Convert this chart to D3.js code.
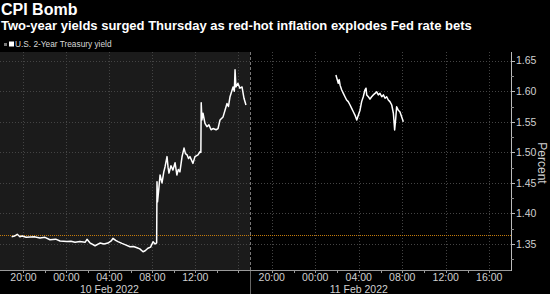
<!DOCTYPE html>
<html><head><meta charset="utf-8">
<script src="https://cdn.jsdelivr.net/npm/d3@7"></script>
<style>html,body{margin:0;padding:0;background:#000;}svg{display:block;}</style>
</head><body>
<svg id="c" width="550" height="294"></svg>
<script>
const titleText = "CPI Bomb";
const subtitleText = "Two-year yields surged Thursday as red-hot inflation explodes Fed rate bets";
const legendLabel = "U.S. 2-Year Treasury yield";
const axisTitle = "Percent";
const prevClose = 1.3645;

const day1Times = ["2022-02-09T18:54","2022-02-09T19:10","2022-02-09T19:25","2022-02-09T19:40","2022-02-09T19:52","2022-02-09T20:15","2022-02-09T20:37","2022-02-09T21:00","2022-02-09T21:32","2022-02-09T22:00","2022-02-09T22:28","2022-02-09T23:00","2022-02-09T23:24","2022-02-10T00:03","2022-02-10T00:25","2022-02-10T00:48","2022-02-10T01:15","2022-02-10T01:44","2022-02-10T01:55","2022-02-10T02:11","2022-02-10T02:40","2022-02-10T03:07","2022-02-10T03:30","2022-02-10T03:52","2022-02-10T04:10","2022-02-10T04:20","2022-02-10T04:35","2022-02-10T04:48","2022-02-10T05:10","2022-02-10T05:27","2022-02-10T05:55","2022-02-10T06:15","2022-02-10T06:34","2022-02-10T06:50","2022-02-10T07:08","2022-02-10T07:20","2022-02-10T07:35","2022-02-10T07:50","2022-02-10T08:04","2022-02-10T08:15","2022-02-10T08:24","2022-02-10T08:26","2022-02-10T08:29","2022-02-10T08:36","2022-02-10T08:43","2022-02-10T08:54","2022-02-10T09:04","2022-02-10T09:11","2022-02-10T09:22","2022-02-10T09:28","2022-02-10T09:33","2022-02-10T09:44","2022-02-10T09:55","2022-02-10T10:07","2022-02-10T10:17","2022-02-10T10:25","2022-02-10T10:34","2022-02-10T10:46","2022-02-10T10:57","2022-02-10T11:05","2022-02-10T11:14","2022-02-10T11:22","2022-02-10T11:30","2022-02-10T11:47","2022-02-10T11:58","2022-02-10T12:15","2022-02-10T12:26","2022-02-10T12:31","2022-02-10T12:33","2022-02-10T12:37","2022-02-10T12:43","2022-02-10T12:54","2022-02-10T13:05","2022-02-10T13:16","2022-02-10T13:28","2022-02-10T13:39","2022-02-10T13:56","2022-02-10T14:07","2022-02-10T14:18","2022-02-10T14:35","2022-02-10T14:46","2022-02-10T14:57","2022-02-10T15:05","2022-02-10T15:14","2022-02-10T15:31","2022-02-10T15:38","2022-02-10T15:42","2022-02-10T15:47","2022-02-10T15:58","2022-02-10T16:09","2022-02-10T16:21","2022-02-10T16:32","2022-02-10T16:43"];
const day1Yields = [1.362,1.363,1.366,1.362,1.363,1.361,1.3615,1.362,1.360,1.361,1.357,1.358,1.355,1.354,1.3545,1.353,1.354,1.3528,1.3577,1.352,1.3472,1.3516,1.350,1.3516,1.355,1.3593,1.356,1.354,1.351,1.349,1.3456,1.346,1.344,1.342,1.3374,1.339,1.343,1.345,1.3538,1.350,1.352,1.452,1.419,1.440,1.463,1.450,1.468,1.4765,1.493,1.475,1.466,1.478,1.471,1.483,1.463,1.472,1.468,1.493,1.507,1.498,1.496,1.490,1.493,1.482,1.493,1.496,1.501,1.500,1.581,1.553,1.564,1.5475,1.542,1.545,1.537,1.539,1.537,1.539,1.553,1.558,1.569,1.580,1.575,1.591,1.607,1.600,1.635,1.607,1.613,1.605,1.607,1.5885,1.5775];

const day2Times = ["2022-02-11T01:54","2022-02-11T02:07","2022-02-11T02:12","2022-02-11T02:17","2022-02-11T02:26","2022-02-11T02:35","2022-02-11T02:44","2022-02-11T02:53","2022-02-11T03:02","2022-02-11T03:12","2022-02-11T03:21","2022-02-11T03:30","2022-02-11T03:39","2022-02-11T03:49","2022-02-11T03:58","2022-02-11T04:07","2022-02-11T04:16","2022-02-11T04:25","2022-02-11T04:34","2022-02-11T04:40","2022-02-11T04:44","2022-02-11T04:53","2022-02-11T05:02","2022-02-11T05:11","2022-02-11T05:20","2022-02-11T05:30","2022-02-11T05:39","2022-02-11T05:48","2022-02-11T05:57","2022-02-11T06:07","2022-02-11T06:16","2022-02-11T06:25","2022-02-11T06:34","2022-02-11T06:43","2022-02-11T06:52","2022-02-11T07:02","2022-02-11T07:11","2022-02-11T07:14","2022-02-11T07:18","2022-02-11T07:24","2022-02-11T07:29","2022-02-11T07:38","2022-02-11T07:47","2022-02-11T07:57","2022-02-11T08:06"];
const day2Yields = [1.6266,1.613,1.619,1.610,1.602,1.5966,1.591,1.5857,1.583,1.5775,1.572,1.5665,1.561,1.553,1.561,1.569,1.583,1.591,1.602,1.605,1.594,1.591,1.587,1.591,1.594,1.5966,1.599,1.594,1.5966,1.591,1.594,1.5885,1.591,1.5857,1.583,1.5775,1.564,1.553,1.5366,1.5557,1.5747,1.569,1.5665,1.558,1.550];

const yTicks = [1.35,1.40,1.45,1.50,1.55,1.60,1.65];
const yMinorTicks = [1.325,1.375,1.425,1.475,1.525,1.575,1.625];
const xLabelTimes = ["2022-02-09T20:00","2022-02-10T00:00","2022-02-10T04:00","2022-02-10T08:00","2022-02-10T12:00","2022-02-10T20:00","2022-02-11T00:00","2022-02-11T04:00","2022-02-11T08:00","2022-02-11T12:00","2022-02-11T16:00"];
const xGridTimes = ["2022-02-09T20:00","2022-02-10T00:00","2022-02-10T04:00","2022-02-10T08:00","2022-02-10T12:00","2022-02-10T16:00","2022-02-10T20:00","2022-02-11T00:00","2022-02-11T04:00","2022-02-11T08:00","2022-02-11T12:00","2022-02-11T16:00"];
const xMinorTimes = ["2022-02-09T22:00","2022-02-10T02:00","2022-02-10T06:00","2022-02-10T10:00","2022-02-10T14:00","2022-02-10T22:00","2022-02-11T02:00","2022-02-11T06:00","2022-02-11T10:00","2022-02-11T14:00"];
const dateLabels = [["2022-02-10T04:00","10 Feb 2022"],["2022-02-11T04:00","11 Feb 2022"]];
const domainBreaks = ["2022-02-09T18:00","2022-02-10T17:00","2022-02-10T18:00","2022-02-11T18:00"];

const parse = d3.timeParse("%Y-%m-%dT%H:%M");
const fmt = d3.timeFormat("%H:%M");
const FONT = "'Liberation Sans', Arial, sans-serif";

const svg = d3.select("#c");
const plotTop = 52, plotBottom = 270, axisX = 511, sepX = 250;

const x = d3.scaleTime().domain(domainBreaks.map(parse)).range([2, 249, 250, 511]);
const y = d3.scaleLinear().domain([1.3075, 1.6642]).range([plotBottom, plotTop]);

svg.append("rect").attr("width",550).attr("height",294).attr("fill","#000");
svg.append("rect").attr("x",0).attr("y",plotTop).attr("width",sepX).attr("height",plotBottom-plotTop).attr("fill","#1b1b1b");

// grid
svg.append("g").selectAll("line").data(yTicks).join("line")
  .attr("x1",0).attr("x2",axisX).attr("y1",d=>Math.round(y(d))+0.5).attr("y2",d=>Math.round(y(d))+0.5)
  .attr("stroke","#444").attr("stroke-dasharray","1,2");
svg.append("g").selectAll("line").data(xGridTimes).join("line")
  .attr("x1",d=>Math.round(x(parse(d)))+0.5).attr("x2",d=>Math.round(x(parse(d)))+0.5)
  .attr("y1",plotTop).attr("y2",plotBottom)
  .attr("stroke","#444").attr("stroke-dasharray","1,2");

// separator
svg.append("line").attr("x1",sepX+0.5).attr("x2",sepX+0.5).attr("y1",plotTop).attr("y2",plotBottom)
  .attr("stroke","#777").attr("stroke-dasharray","3,2");
svg.append("line").attr("x1",sepX+0.5).attr("x2",sepX+0.5).attr("y1",plotBottom).attr("y2",294)
  .attr("stroke","#666");

// previous close
svg.append("line").attr("x1",0).attr("x2",axisX).attr("y1",Math.round(y(prevClose))+0.5).attr("y2",Math.round(y(prevClose))+0.5)
  .attr("stroke","#c27a0e").attr("stroke-dasharray","1,1");

// lines
const line = d3.line().x(d=>x(d[0])).y(d=>y(d[1]));
[[day1Times,day1Yields],[day2Times,day2Yields]].forEach(([t,v])=>{
  const pts = t.map((s,i)=>[parse(s), v[i]]);
  svg.append("path").datum(pts).attr("d",line).attr("fill","none")
    .attr("stroke","#fff").attr("stroke-width",1.5).attr("stroke-linejoin","round");
});

// axes lines
svg.append("line").attr("x1",0).attr("x2",axisX+0.5).attr("y1",plotBottom+0.5).attr("y2",plotBottom+0.5).attr("stroke","#9a9a9a");
svg.append("line").attr("x1",axisX+0.5).attr("x2",axisX+0.5).attr("y1",plotTop).attr("y2",plotBottom+1).attr("stroke","#bbb");

// y ticks
svg.append("g").selectAll("line").data(yTicks).join("line")
  .attr("x1",axisX).attr("x2",axisX+4).attr("y1",d=>Math.round(y(d))+0.5).attr("y2",d=>Math.round(y(d))+0.5).attr("stroke","#bbb");
svg.append("g").selectAll("line").data(yMinorTicks).join("line")
  .attr("x1",axisX).attr("x2",axisX+3).attr("y1",d=>Math.round(y(d))+0.5).attr("y2",d=>Math.round(y(d))+0.5).attr("stroke","#888");
svg.append("g").selectAll("text").data(yTicks).join("text")
  .attr("x",axisX+5).attr("y",d=>y(d)).attr("dy","0.36em")
  .attr("fill","#d0d0d0").attr("font-family",FONT).attr("font-size",10.5)
  .text(d=>d3.format(".2f")(d));
svg.append("text").attr("transform","translate(538,163) rotate(90)")
  .attr("text-anchor","middle").attr("fill","#d0d0d0").attr("font-family",FONT).attr("font-size",12)
  .text(axisTitle);

// x ticks
svg.append("g").selectAll("line").data(xGridTimes.concat(xMinorTimes)).join("line")
  .attr("x1",d=>Math.round(x(parse(d)))+0.5).attr("x2",d=>Math.round(x(parse(d)))+0.5)
  .attr("y1",plotBottom).attr("y2",plotBottom+3).attr("stroke","#999");
svg.append("g").selectAll("text").data(xLabelTimes).join("text")
  .attr("x",d=>x(parse(d))).attr("y",281).attr("text-anchor","middle")
  .attr("fill","#d0d0d0").attr("font-family",FONT).attr("font-size",10.5)
  .text(d=>fmt(parse(d)));
svg.append("g").selectAll("text").data(dateLabels).join("text")
  .attr("x",d=>x(parse(d[0]))).attr("y",292.5).attr("text-anchor","middle")
  .attr("fill","#d0d0d0").attr("font-family",FONT).attr("font-size",10.5)
  .text(d=>d[1]);

// titles
svg.append("text").attr("x",1).attr("y",15).attr("fill","#fff").attr("font-family",FONT)
  .attr("font-weight","bold").attr("font-size",16).text(titleText);
svg.append("text").attr("x",1).attr("y",30).attr("fill","#fff").attr("font-family",FONT)
  .attr("font-weight","bold").attr("font-size",13).text(subtitleText);

// legend
svg.append("rect").attr("x",4).attr("y",43).attr("width",3).attr("height",3).attr("fill","#777");
svg.append("rect").attr("x",9).attr("y",41.5).attr("width",5).attr("height",5).attr("fill","#fff");
svg.append("text").attr("x",15).attr("y",47).attr("fill","#d8d8d8").attr("font-family",FONT)
  .attr("font-size",8.3).text(legendLabel);
</script>
</body></html>
